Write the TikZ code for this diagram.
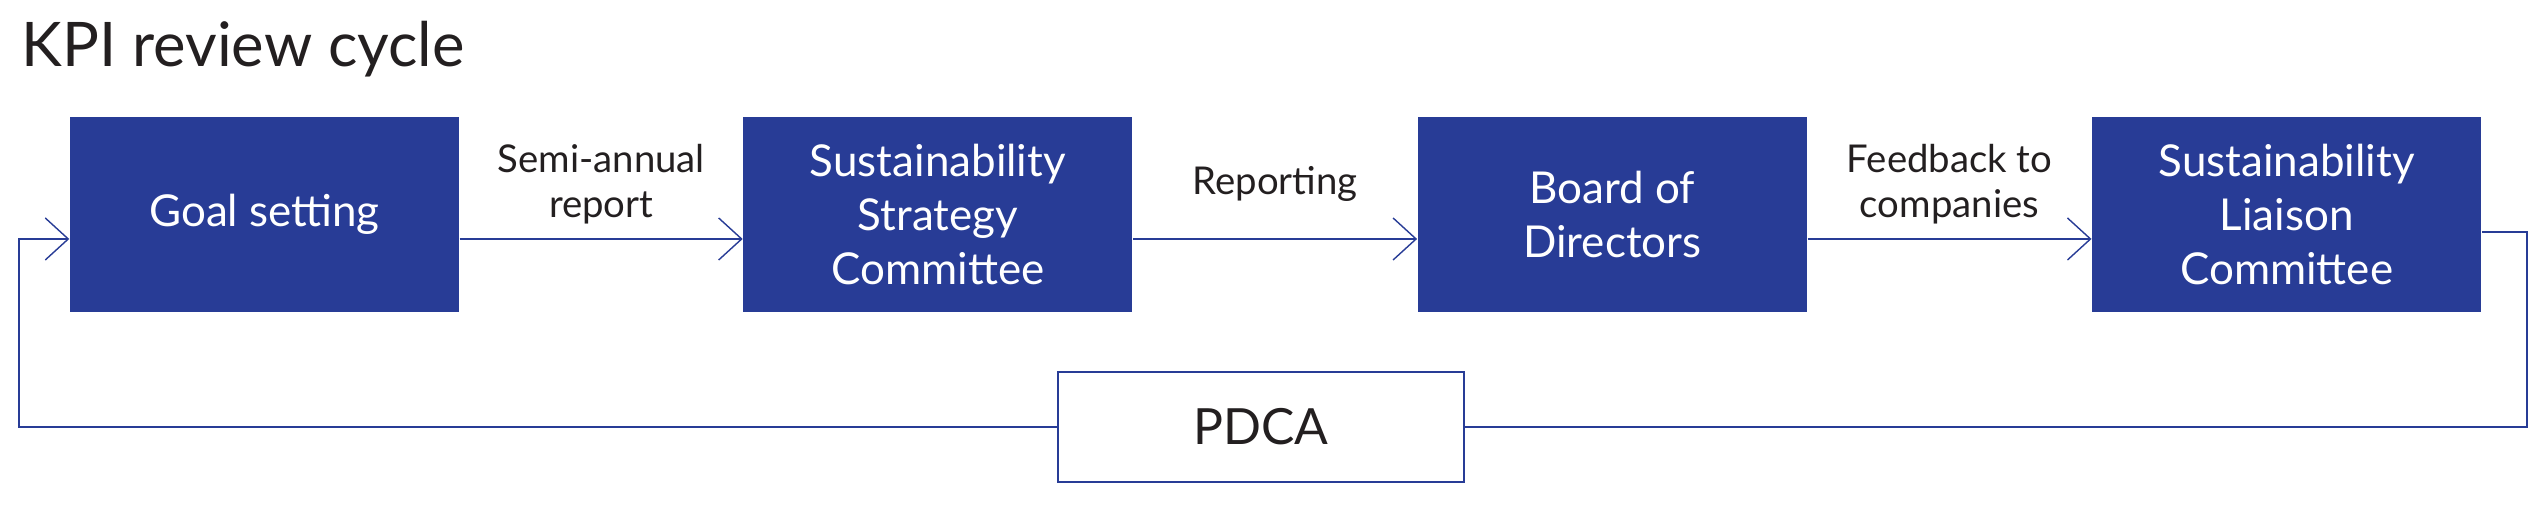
\documentclass[tikz,border=0pt]{standalone}
\usepackage{fontspec}
\setmainfont{Lato}
\usetikzlibrary{arrows.meta,positioning}
\definecolor{kpiblue}{RGB}{40,60,150}
\definecolor{kpitext}{RGB}{35,31,32}

\begin{document}
\begin{tikzpicture}[
    stage/.style={fill=kpiblue, text=white, minimum width=3.89cm, minimum height=1.95cm,
      align=center, inner sep=0pt, font=\fontsize{12.5}{15.4}\selectfont},
    lbl/.style={text=kpitext, align=center, inner sep=0pt, font=\fontsize{10.9}{12.8}\selectfont},
    flow/.style={kpiblue, line width=0.6pt, -{Straight Barb[length=2.3mm, width=4.2mm, line width=0.4pt]}},
    back/.style={kpiblue, line width=0.6pt},
  ]
  \useasboundingbox (0,0) rectangle (25.45,5.09);
  \node[anchor=base west, inner sep=0pt, text=kpitext, font=\fontsize{17.5}{21}\selectfont]
    (title) at (0.21,4.42) {KPI review cycle};

  % the four stages
  \node[stage] (goal) at (2.645,2.945) {Goal setting};
  \node[stage, right=2.83cm of goal] (strat) {Sustainability\\Strategy\\Committee};
  \node[stage, right=2.84cm of strat] (board) {Board of\\Directors};
  \node[stage, right=2.84cm of board] (liaison) {Sustainability\\Liaison\\Committee};
  \node[draw=kpiblue, line width=0.6pt, minimum width=4.06cm, minimum height=1.10cm, inner sep=0pt,
    text=kpitext, font=\fontsize{14.2}{17}\selectfont] (pdca) at (12.61,0.82) {PDCA};

  \coordinate (lane) at (0,2.70);
  \coordinate (out) at (0,2.77);
  \coordinate (rturn) at (25.27,0.82);
  \coordinate (lturn) at (0.19,2.70);

  \draw[flow] (goal.east |- lane) -- node[lbl, yshift=0.55cm] {Semi-annual\\report} (strat.west |- lane);
  \draw[flow] (strat.east |- lane) -- node[lbl, yshift=0.55cm] {Reporting} (board.west |- lane);
  \draw[flow] (board.east |- lane) -- node[lbl, yshift=0.55cm] {Feedback to\\companies} (liaison.west |- lane);

  % loop back through PDCA
  \draw[back] (liaison.east |- out) -| (rturn) -- (pdca.east);
  \draw[flow] (pdca.west) -| (lturn) -- (goal.west |- lane);
\end{tikzpicture}
\end{document}
